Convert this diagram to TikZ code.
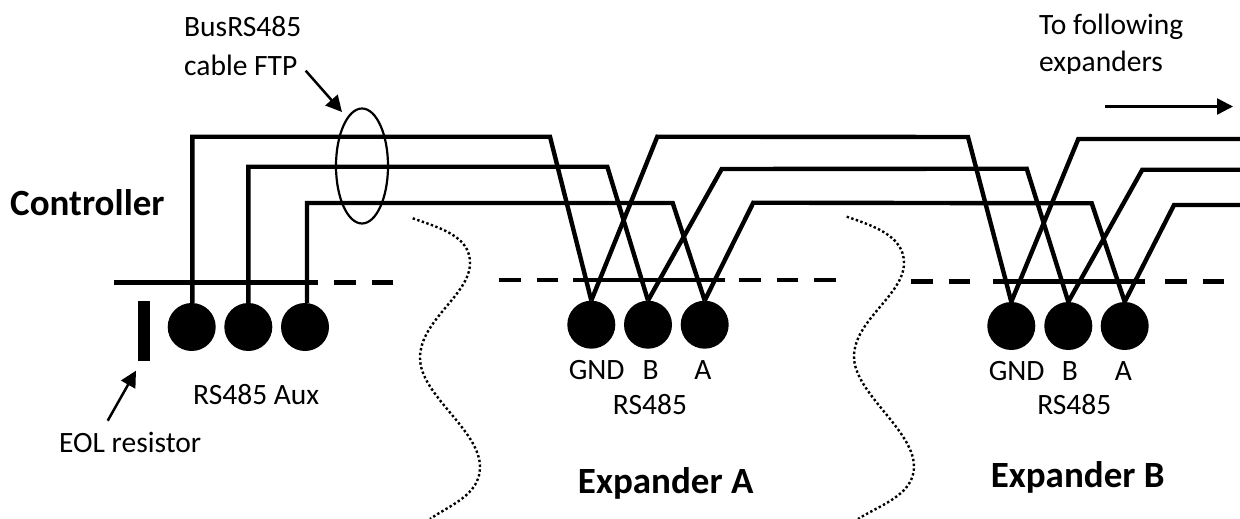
\documentclass[tikz,border=0pt]{standalone}
\usepackage{fontspec}
\setmainfont{Carlito}
\usetikzlibrary{arrows.meta,shapes.geometric}
\tikzset{
  wire/.style={line width=4.4pt,line join=miter,line cap=butt},
  railline/.style={line width=4.4pt},
  railgap/.style={line width=4.4pt,dash pattern=on 21.5pt off 16pt},
  pin/.style={circle,fill=black,draw=none,minimum size=48pt,inner sep=0pt},
  lab/.style={inner sep=0pt,yshift=-1.5pt,font=\fontsize{29.5pt}{32pt}\selectfont,anchor=base},
  labw/.style={lab,anchor=base west},
  title/.style={inner sep=0pt,yshift=-1.5pt,font=\fontsize{37pt}{40pt}\selectfont\bfseries,anchor=base},
  pointer/.style={line width=2.5pt,-{Triangle[length=16pt,width=16pt]}},
  border/.style={line width=2.4pt,dash pattern=on 2.4pt off 2.4pt}
}
\begin{document}
\begin{tikzpicture}[x=1pt,y=-1pt]
\useasboundingbox (0,0) rectangle (1240,519);
% pins
\node[pin] (c1) at (191.7,327) {};
\node[pin] (c2) at (248.3,327) {};
\node[pin] (c3) at (305,327) {};
\node[pin] (a1) at (591.3,324.7) {};
\node[pin] (a2) at (648,324.7) {};
\node[pin] (a3) at (704.7,324.7) {};
\node[pin] (b1) at (1011.3,326) {};
\node[pin] (b2) at (1068.3,326) {};
\node[pin] (b3) at (1124.7,326) {};
% rails
\draw[railline] (114,282.3) -- (318,282.3);
\draw[railgap] (334,282.3) -- (393,282.3);
\draw[railgap] (499,280) -- (573,280);
\draw[railline] (573,280) -- (725,280);
\draw[railgap] (739,280) -- (836,280);
\draw[railgap] (911,281.3) -- (985,281.3);
\draw[railline] (993.3,281.3) -- (1145,281.3);
\draw[railgap] (1165,281.3) -- (1224,281.3);
% wire bends
\coordinate (t1) at (192.3,136.7);
\coordinate (t2) at (248.3,166.7);
\coordinate (t3) at (307,203);
\coordinate (ai1) at (550,136.7);
\coordinate (ai2) at (607.3,166.7);
\coordinate (ai3) at (672.7,203);
\coordinate (ao1) at (657.3,136.7);
\coordinate (ao2) at (721.7,169);
\coordinate (ao3) at (753.3,202.7);
\coordinate (bi1) at (968,137);
\coordinate (bi2) at (1026.7,168.7);
\coordinate (bi3) at (1091.7,203.3);
\coordinate (bo1) at (1078.3,139);
\coordinate (bo2) at (1142.3,169.7);
\coordinate (bo3) at (1174,205);
\coordinate (e1) at (1240,139);
\coordinate (e2) at (1240,169.7);
\coordinate (e3) at (1240,205);
% wires
\draw[wire] (c1.north -| t1) -- (t1) -- (ai1) -- (a1.north);
\draw[wire] (c2.north -| t2) -- (t2) -- (ai2) -- (a2.north);
\draw[wire] (c3.north -| t3) -- (t3) -- (ai3) -- (a3.north);
\draw[wire] (a1.north) -- (ao1) -- (bi1) -- (b1.north);
\draw[wire] (a2.north) -- (ao2) -- (bi2) -- (b2.north);
\draw[wire] (a3.north) -- (ao3) -- (bi3) -- (b3.north);
\draw[wire] (b1.north) -- (bo1) -- (e1);
\draw[wire] (b2.north) -- (bo2) -- (e2);
\draw[wire] (b3.north) -- (bo3) -- (e3);
% cable ring
\node[ellipse,draw,line width=2.2pt,minimum width=52pt,minimum height=115pt,inner sep=0pt] (ring) at (362,166) {};
% EOL resistor
\node[fill=black,draw=none,minimum width=12pt,minimum height=60pt,inner sep=0pt] (eol) at (144,330.5) {};
% labels
\node[labw] (lbus) at (184,35) {BusRS485};
\node[labw] (lcable) at (184,73.7) {cable FTP};
\node[labw] (lto) at (1039,33.3) {To following};
\begin{scope}
\clip (1030,45) rectangle (1200,74);
\node[labw] (lexp) at (1039,70.2) {expanders};
\end{scope}
\node[title,anchor=base west] (lctrl) at (10,214) {Controller};
\node[labw] (laux) at (193,403) {RS485 Aux};
\node[labw] (leol) at (59,451) {EOL resistor};
\node[lab] (ga) at (596.7,378) {GND};
\node[lab] (ba) at (650.7,378) {B};
\node[lab] (aa) at (703,378) {A};
\node[lab] (ra) at (650,413) {RS485};
\node[title] (xa) at (665.7,491.7) {Expander A};
\node[lab] (gb) at (1016.7,379.3) {GND};
\node[lab] (bb) at (1070,379.3) {B};
\node[lab] (ab) at (1123.3,379.3) {A};
\node[lab] (rb) at (1074.3,412.7) {RS485};
\node[title] (xb) at (1077.7,486) {Expander B};
% pointers
\coordinate (pc) at (305.7,70.7);
\coordinate (pch) at (342,112);
\draw[pointer] (pc) -- (pch);
\coordinate (pe) at (107.7,420.7);
\coordinate (peh) at (136,370.7);
\draw[pointer] (pe) -- (peh);
\coordinate (pf) at (1105,106.5);
\coordinate (pfh) at (1233,106.5);
\draw[pointer] (pf) -- (pfh);
% dotted borders
\draw[border] (412.7,218.3) .. controls (440,228) and (470,236) .. (470,263)
  .. controls (470,295) and (420,320) .. (420,358)
  .. controls (420,395) and (480,430) .. (480,467)
  .. controls (480,495) and (450,505) .. (430,519);
\draw[border] (846.7,216.7) .. controls (874,226) and (904,236) .. (904,263)
  .. controls (904,295) and (854,320) .. (854,356.7)
  .. controls (854,393) and (914,430) .. (914,466.7)
  .. controls (914,495) and (880,505) .. (858,519);
\end{tikzpicture}
\end{document}
